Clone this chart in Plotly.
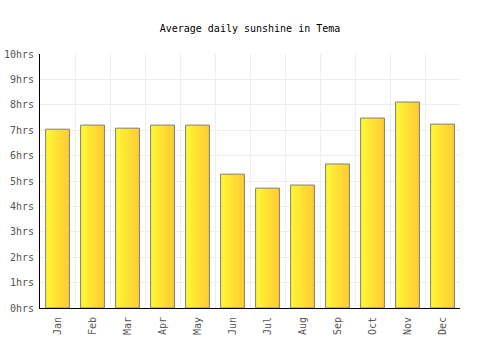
import plotly.graph_objects as go

months = ["Jan", "Feb", "Mar", "Apr", "May", "Jun", "Jul", "Aug", "Sep", "Oct", "Nov", "Dec"]
sunshine = [7.04, 7.2, 7.08, 7.2, 7.2, 5.27, 4.72, 4.84, 5.67, 7.48, 8.11, 7.24]
y_ticks = list(range(0, 11))
y_labels = [f"{v}hrs" for v in y_ticks]

x = list(range(len(months)))
bar_w = 0.68
n_stripes = 20
c0 = (255, 248, 51)
c1 = (255, 204, 51)

fig = go.Figure()
for i in range(n_stripes):
    t = i / (n_stripes - 1)
    col = tuple(round(c0[k] + (c1[k] - c0[k]) * t) for k in range(3))
    sw = bar_w / n_stripes
    fig.add_trace(go.Bar(
        x=x, y=sunshine, width=sw * 1.05, offset=-bar_w / 2 + i * sw,
        marker=dict(color=f"rgb{col}", line=dict(width=0)),
        showlegend=False, hoverinfo="skip"))
fig.add_trace(go.Bar(
    x=x, y=sunshine, width=bar_w,
    marker=dict(color="rgba(0,0,0,0)", line=dict(color="#808080", width=1)),
    showlegend=False, name="Sunshine"))

font = "DejaVu Sans Mono"
fig.update_layout(
    width=500, height=350,
    margin=dict(l=40, r=40, t=54, b=42, autoexpand=False),
    barmode="overlay",
    plot_bgcolor="white", paper_bgcolor="white",
    title=dict(text="Average daily sunshine in Tema", x=0.5, xanchor="center",
               y=1 - 28 / 350, yanchor="middle",
               font=dict(family=font, size=10, color="#000")),
    xaxis=dict(range=[-0.5, 11.5], tickmode="array", tickvals=x, ticktext=months,
               tickangle=-90, showgrid=False, showline=True, linecolor="#000", linewidth=1,
               ticks="", ticklabelstandoff=4, automargin=False,
               tickfont=dict(family=font, size=10, color="#555"),
               minor=dict(tick0=-0.5, dtick=1, showgrid=True, gridcolor="#eeeeee", gridwidth=1, ticks=""),
               zeroline=False, fixedrange=True),
    yaxis=dict(range=[0, 10], tickmode="array", tickvals=y_ticks, ticktext=y_labels,
               showgrid=True, gridcolor="#eeeeee", gridwidth=1, automargin=False,
               showline=True, linecolor="#000", linewidth=1, ticks="", ticklabelstandoff=3,
               tickfont=dict(family=font, size=10, color="#555"), zeroline=False, fixedrange=True),
)

fig.write_html("out.html")
